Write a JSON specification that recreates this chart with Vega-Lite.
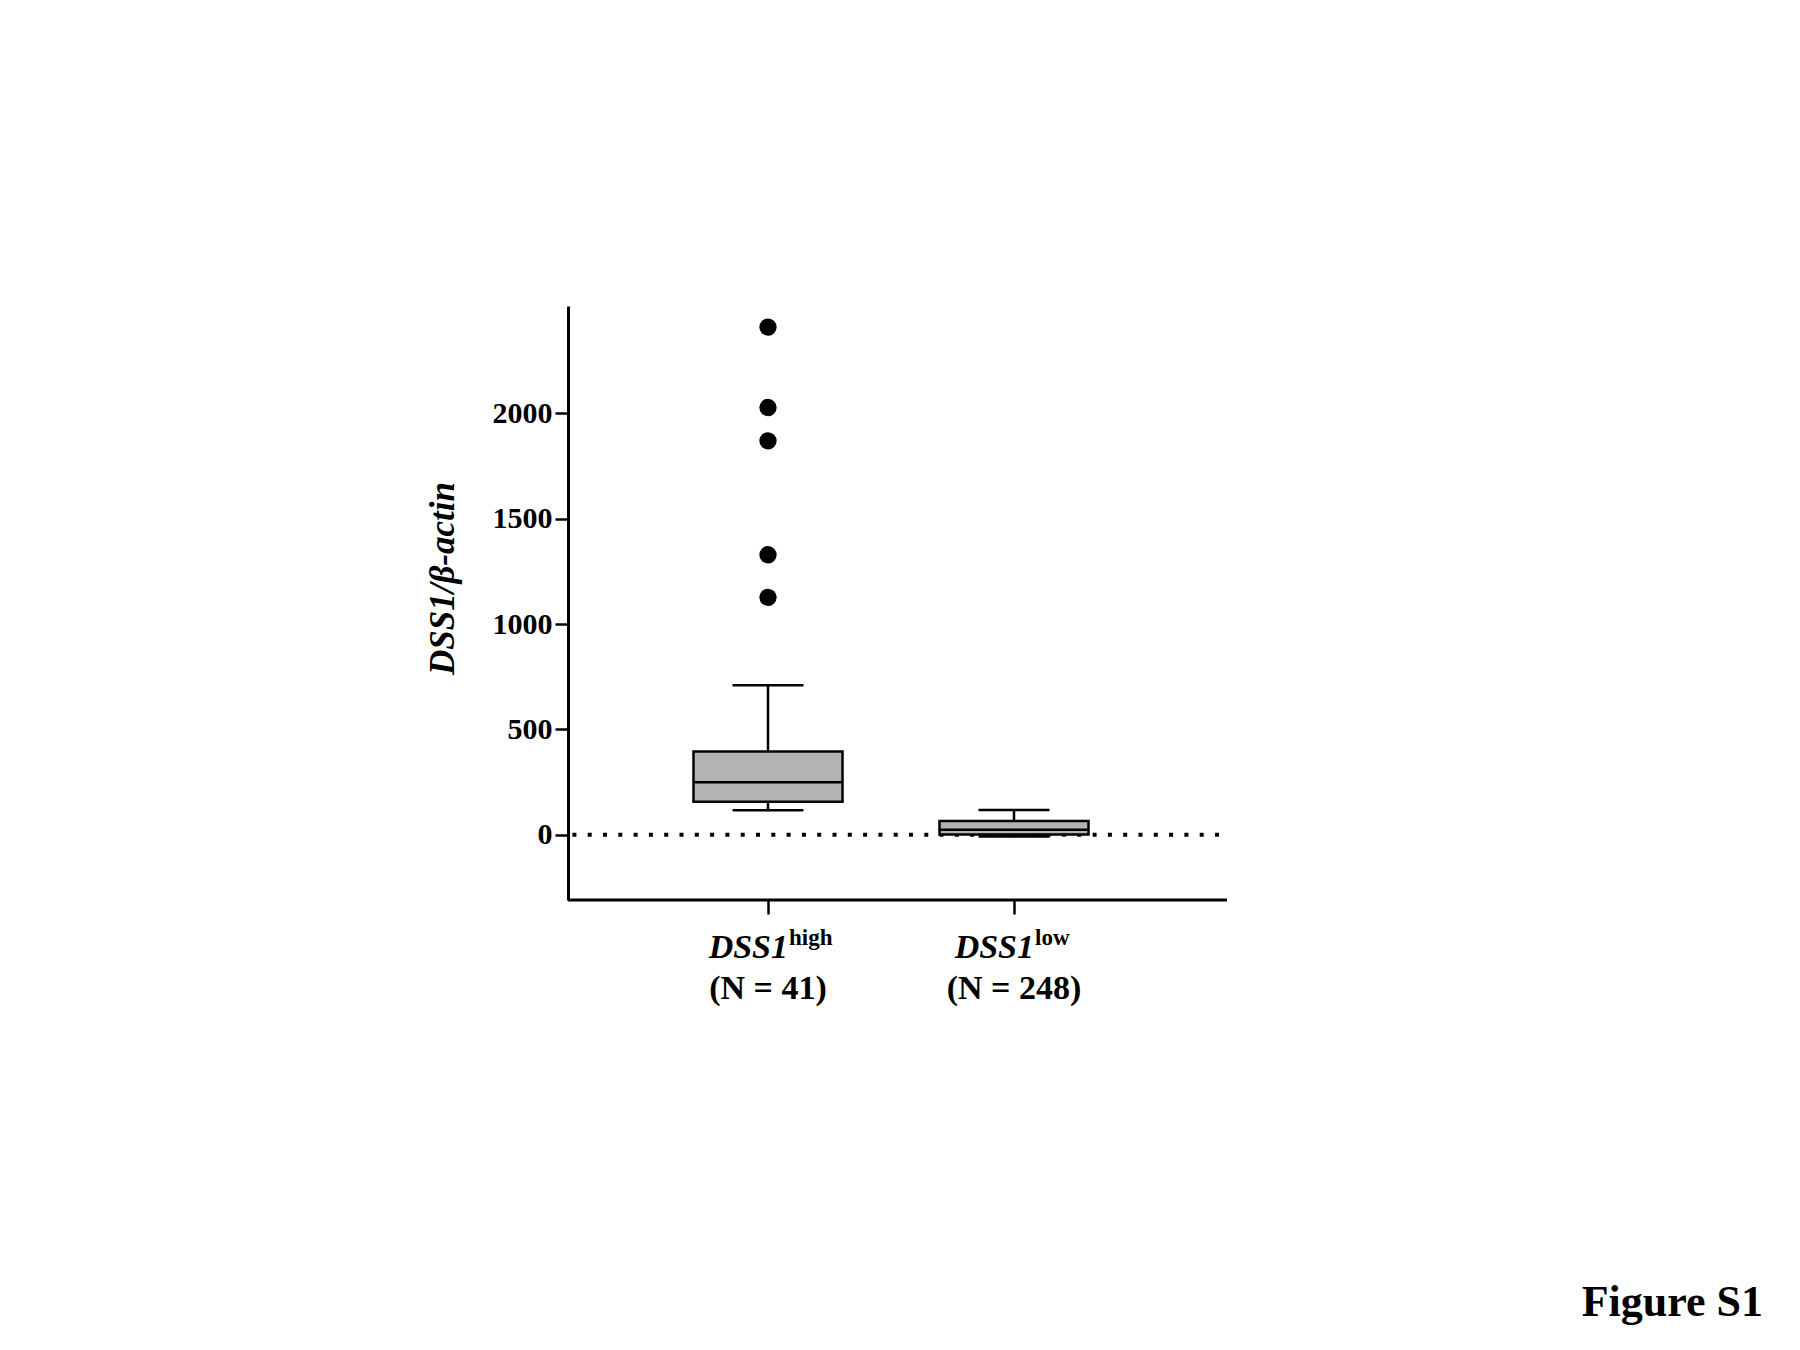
{
  "$schema": "https://vega.github.io/schema/vega-lite/v6.json",
  "width": 659,
  "height": 594,
  "autosize": {"type": "none"},
  "padding": {"left": 568, "top": 306, "right": 573, "bottom": 450},
  "background": "white",
  "config": {"font": "Liberation Serif", "view": {"stroke": null}},
  "title": {"text": "Figure S1", "orient": "bottom", "anchor": "end", "frame": "group", "fontSize": 44, "fontWeight": "bold", "font": "Liberation Serif", "color": "black", "dx": 536, "dy": 271},
  "datasets": {
    "boxes": [
      {"group": "high", "lower": 116, "q1": 157, "median": 249, "q3": 395, "upper": 710, "gene": "DSS1", "sup": "high", "n": "(N = 41)"},
      {"group": "low", "lower": -8, "q1": 1, "median": 24, "q3": 65, "upper": 117, "gene": "DSS1", "sup": "low", "n": "(N = 248)"}
    ],
    "outliers": [
      {"group": "high", "value": 2410},
      {"group": "high", "value": 2028},
      {"group": "high", "value": 1870},
      {"group": "high", "value": 1329},
      {"group": "high", "value": 1127}
    ],
    "refs": [{"ref": 0}]
  },
  "data": {"name": "boxes"},
  "layer": [
    {
      "data": {"name": "refs"},
      "mark": {"type": "rule", "color": "black", "strokeWidth": 4, "strokeDash": [4, 11.3], "strokeDashOffset": -8},
      "encoding": {
        "y": {"field": "ref", "type": "quantitative",
          "scale": {"domain": [-310, 2510], "nice": false, "zero": false},
          "axis": {"values": [0, 500, 1000, 1500, 2000], "format": "d", "title": "DSS1/β-actin", "titleFont": "Liberation Serif", "titleFontSize": 35, "titleFontWeight": "bold", "titleFontStyle": "italic", "titleColor": "black", "titleY": 272, "titlePadding": 32,
            "labelFont": "Liberation Serif", "labelFontSize": 30, "labelFontWeight": "bold", "labelColor": "black", "labelPadding": 3,
            "domainColor": "black", "domainWidth": 3, "tickColor": "black", "tickWidth": 2.5, "tickSize": 13, "grid": false}
        }
      }
    },
    {
      "data": {"name": "refs"},
      "mark": {"type": "rule", "color": "black", "strokeWidth": 3},
      "encoding": {"y": {"datum": -310, "type": "quantitative"}}
    },
    {
      "mark": {"type": "rule", "color": "black", "strokeWidth": 2.5},
      "encoding": {
        "x": {"field": "group", "type": "nominal",
          "scale": {"type": "point", "domain": ["high", "low"], "range": [200, 446], "padding": 0},
          "axis": {"labels": false, "title": null, "domain": false, "tickColor": "black", "tickWidth": 2.5, "tickSize": 14}},
        "y": {"field": "q3", "type": "quantitative"},
        "y2": {"field": "upper"}
      }
    },
    {
      "mark": {"type": "rule", "color": "black", "strokeWidth": 2.5},
      "encoding": {
        "x": {"field": "group", "type": "nominal"},
        "y": {"field": "lower", "type": "quantitative"},
        "y2": {"field": "q1"}
      }
    },
    {
      "mark": {"type": "bar", "size": 149, "fill": "#b3b3b3", "stroke": "black", "strokeWidth": 2.5},
      "encoding": {
        "x": {"field": "group", "type": "nominal"},
        "y": {"field": "q1", "type": "quantitative"},
        "y2": {"field": "q3"}
      }
    },
    {
      "mark": {"type": "tick", "size": 149, "thickness": 2.5, "color": "black", "opacity": 1, "orient": "horizontal"},
      "encoding": {
        "x": {"field": "group", "type": "nominal"},
        "y": {"field": "median", "type": "quantitative"}
      }
    },
    {
      "mark": {"type": "tick", "size": 71, "thickness": 2.5, "color": "black", "opacity": 1, "orient": "horizontal"},
      "encoding": {
        "x": {"field": "group", "type": "nominal"},
        "y": {"field": "upper", "type": "quantitative"}
      }
    },
    {
      "mark": {"type": "tick", "size": 71, "thickness": 2.5, "color": "black", "opacity": 1, "orient": "horizontal"},
      "encoding": {
        "x": {"field": "group", "type": "nominal"},
        "y": {"field": "lower", "type": "quantitative"}
      }
    },
    {
      "data": {"name": "outliers"},
      "mark": {"type": "point", "filled": true, "color": "black", "opacity": 1, "size": 300},
      "encoding": {
        "x": {"field": "group", "type": "nominal"},
        "y": {"field": "value", "type": "quantitative"}
      }
    },
    {
      "mark": {"type": "text", "font": "Liberation Serif", "fontSize": 34, "fontWeight": "bold", "fontStyle": "italic", "color": "black", "align": "right", "baseline": "alphabetic", "dx": 20, "dy": 58},
      "encoding": {
        "x": {"field": "group", "type": "nominal"},
        "y": {"datum": -310, "type": "quantitative"},
        "text": {"field": "gene"}
      }
    },
    {
      "mark": {"type": "text", "font": "Liberation Serif", "fontSize": 23, "fontWeight": "bold", "color": "black", "align": "left", "baseline": "alphabetic", "dx": 21, "dy": 45},
      "encoding": {
        "x": {"field": "group", "type": "nominal"},
        "y": {"datum": -310, "type": "quantitative"},
        "text": {"field": "sup"}
      }
    },
    {
      "mark": {"type": "text", "font": "Liberation Serif", "fontSize": 34, "fontWeight": "bold", "color": "black", "align": "center", "baseline": "alphabetic", "dy": 99},
      "encoding": {
        "x": {"field": "group", "type": "nominal"},
        "y": {"datum": -310, "type": "quantitative"},
        "text": {"field": "n"}
      }
    }
  ]
}
